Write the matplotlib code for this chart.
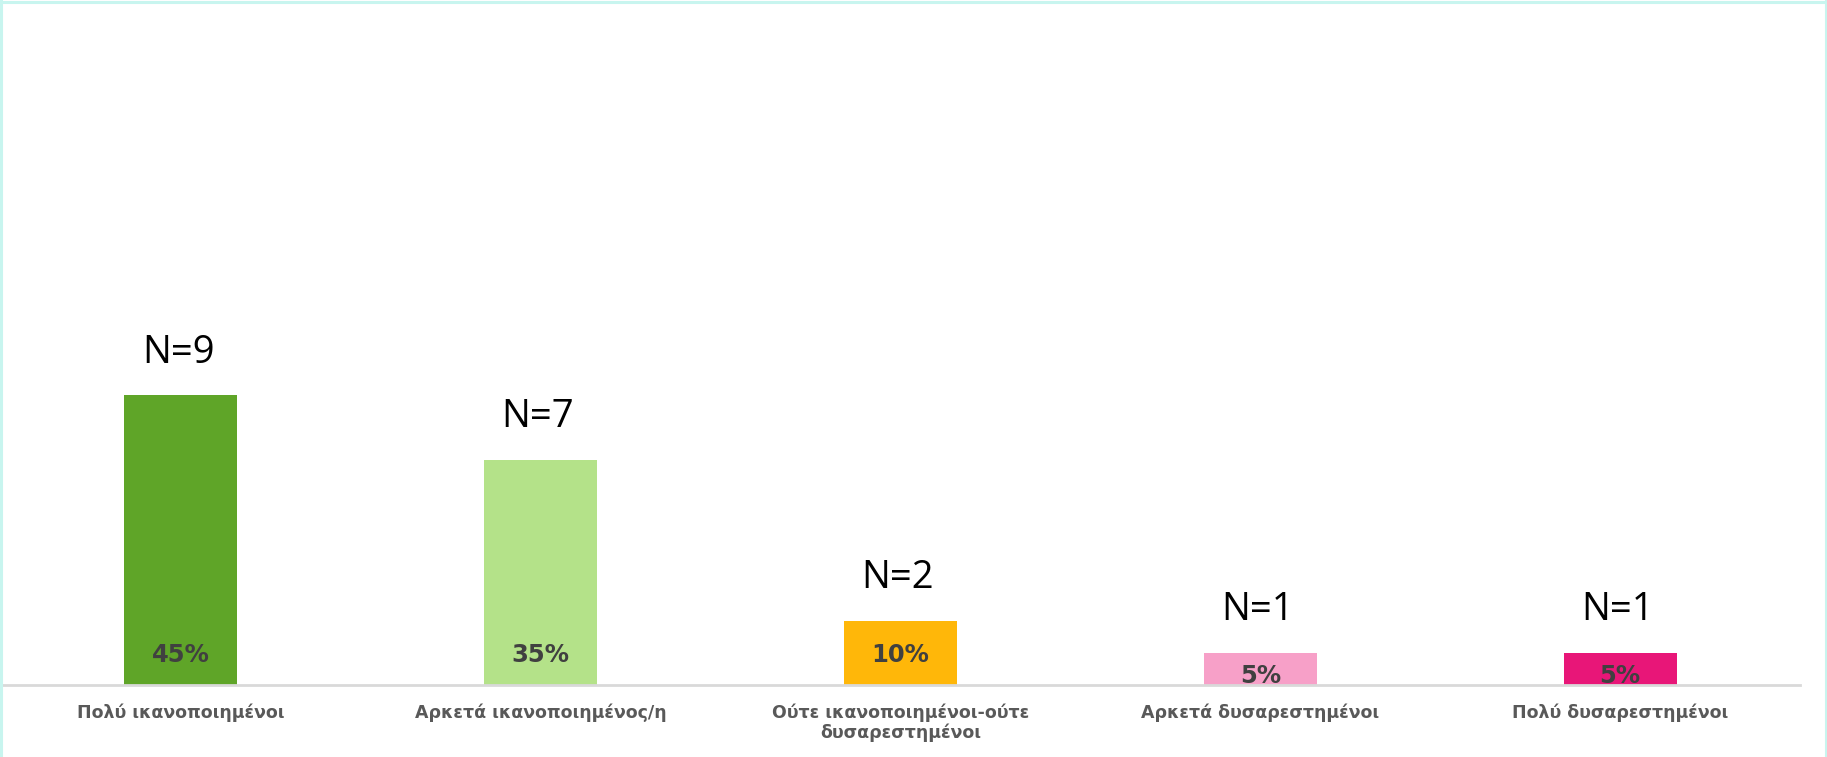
import matplotlib
matplotlib.use("Agg")
import matplotlib.pyplot as plt
from matplotlib.lines import Line2D

categories = ["Πολύ ικανοποιημένοι", "Αρκετά ικανοποιημένος/η",
              "Ούτε ικανοποιημένοι-ούτε\nδυσαρεστημένοι",
              "Αρκετά δυσαρεστημένοι", "Πολύ δυσαρεστημένοι"]
percents = [45, 35, 10, 5, 5]
counts = [9, 7, 2, 1, 1]
colors = ["#5FA528", "#B4E289", "#FFB709", "#F7A0C8", "#E81678"]

W, H = 1827, 757
fig = plt.figure(figsize=(W / 100, H / 100), dpi=100)
fig.patch.set_facecolor("white")
bc = "#C8F5EF"
for xs, ys in [([1 / W, 1 / W], [0, 1]), ([0, 1], [1 - 1.5 / H, 1 - 1.5 / H]),
               ([1 - 1.5 / W, 1 - 1.5 / W], [0, 1])]:
    fig.lines.append(Line2D(xs, ys, transform=fig.transFigure, color=bc, linewidth=2.2))

ax = fig.add_axes([1 / W, 1 - 685 / H, 1799 / W, 644 / H])
x = list(range(len(categories)))
ax.bar(x, percents, width=0.314, color=colors, zorder=2)
ax.set_xlim(-0.5, 4.5)
ax.set_ylim(0, 100)
for s in ["top", "right", "left"]:
    ax.spines[s].set_visible(False)
ax.spines["bottom"].set_color("#D9D9D9")
ax.spines["bottom"].set_linewidth(2)
ax.set_yticks([])
ax.set_xticks(x)
ax.set_xticklabels(categories, fontsize=12.5, fontweight="bold", color="#595959",
                   linespacing=1.15)
ax.tick_params(axis="x", length=0, pad=13)

for xi, p, n in zip(x, percents, counts):
    ax.annotate(f"N={n}", (xi, p), xytext=(-2, 17), textcoords="offset points",
                ha="center", va="bottom", fontsize=27.5, color="black",
                family="Open Sans")
    off = 13 if p >= 10 else -2
    ax.annotate(f"{p}%", (xi, 0), xytext=(0, off), textcoords="offset points",
                ha="center", va="bottom", fontsize=17.5, fontweight="bold",
                color="#404040", zorder=3, annotation_clip=False)

fig.savefig("out.png", dpi=100)
